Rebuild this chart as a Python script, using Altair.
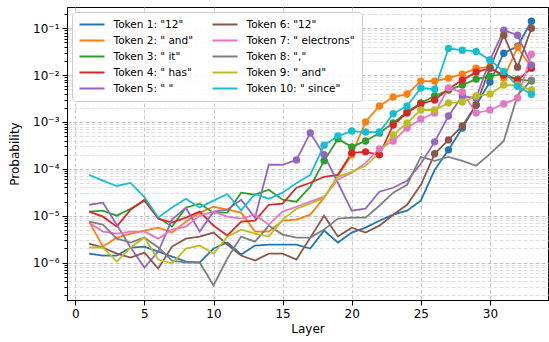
import altair as alt
import pandas as pd

layers = list(range(1, 34))

tokens = ['Token 1: "12"', 'Token 2: " and"', 'Token 3: " it"', 'Token 4: " has"',
          'Token 5: " "', 'Token 6: "12"', 'Token 7: " electrons"', 'Token 8: ","',
          'Token 9: " and"', 'Token 10: " since"']
colors = ["#1f77b4", "#ff7f0e", "#2ca02c", "#d62728", "#9467bd",
          "#8c564b", "#e377c2", "#7f7f7f", "#bcbd22", "#17becf"]

p_tok1 = [1.55e-6, 1.41e-6, 1.41e-6, 2.09e-6, 2.19e-6, 1.71e-6, 1.34e-6, 1.05e-6, 1.0e-6, 1.99e-6,
          2.67e-6, 1.48e-6, 2.30e-6, 2.42e-6, 2.42e-6, 2.42e-6, 1.99e-6, 4.8e-6, 2.67e-6, 4.35e-6,
          5.55e-6, 7.8e-6, 1.05e-5, 1.28e-5, 2.09e-5, 9.5e-5, 2.54e-4, 7.45e-4, 2.3e-3, 7.1e-3,
          2.94e-2, 4.14e-2, 0.141]
p_tok2 = [7.45e-6, 2.19e-6, 3.4e-6, 4.14e-6, 4.8e-6, 5.55e-6, 4.35e-6, 7.45e-6, 1.16e-5, 1.55e-5,
          1.34e-5, 1.16e-5, 4.57e-6, 4.57e-6, 7.83e-6, 8.22e-6, 1.05e-5, 2.42e-5, 7.1e-5, 1.99e-4,
          1.0e-3, 2.19e-3, 3.4e-3, 3.94e-3, 7.45e-3, 7.45e-3, 8.63e-3, 1.05e-2, 1.41e-2, 1.48e-2,
          8.63e-3, 3.94e-2, 1.48e-2]
p_tok3 = [1.22e-5, 1.28e-5, 1.0e-5, 1.41e-5, 2.09e-5, 9.07e-6, 5.83e-6, 1.48e-5, 1.80e-5, 1.16e-5,
          1.16e-5, 3.09e-5, 2.80e-5, 3.57e-5, 2.19e-5, 1.99e-5, 4.14e-5, 1.48e-4, 4.35e-4, 2.94e-4,
          3.94e-4, 5.83e-4, 9.52e-4, 1.63e-3, 2.54e-3, 3.57e-3, 4.8e-3, 6.13e-3, 8.22e-3, 9.52e-3,
          1.05e-2, 8.22e-3, 7.45e-3]
p_tok4 = [1.22e-5, 9.52e-6, 5.83e-6, 1.34e-5, 2.19e-5, 8.63e-6, 7.1e-6, 9.07e-6, 1.22e-5, 6.13e-6,
          3.76e-6, 7.45e-6, 7.83e-6, 1.71e-5, 1.80e-5, 3.94e-5, 5.04e-5, 6.76e-5, 7.45e-5, 2.19e-4,
          2.30e-4, 1.99e-4, 8.63e-4, 1.55e-3, 2.42e-3, 2.94e-3, 5.04e-3, 7.83e-3, 1.16e-2, 1.41e-2,
          1.0e-2, 7.83e-3, 1.41e-2]
p_tok5 = [1.71e-5, 1.89e-5, 6.43e-6, 2.09e-6, 7.83e-7, 1.71e-6, 8.22e-6, 1.48e-5, 4.57e-6, 1.22e-5,
          1.34e-5, 2.19e-5, 9.07e-6, 1.22e-4, 1.22e-4, 1.55e-4, 5.83e-4, 1.99e-4, 5.04e-5, 1.28e-5,
          1.41e-5, 3.24e-5, 3.94e-5, 5.55e-5, 1.28e-4, 3.76e-4, 1.34e-3, 3.57e-3, 3.24e-3, 2.09e-2,
          9.07e-2, 7.1e-2, 1.63e-2]
p_tok6 = [2.54e-6, 2.09e-6, 1.55e-6, 1.28e-6, 1.63e-6, 7.45e-7, 2.19e-6, 3.24e-6, 3.57e-6, 4.35e-6,
          2.42e-6, 1.41e-6, 1.10e-6, 1.55e-6, 1.55e-6, 1.16e-6, 3.4e-6, 1.0e-5, 3.57e-6, 5.55e-6,
          4.35e-6, 6.13e-6, 1.05e-5, 1.71e-5, 4.57e-5, 2.09e-4, 4.14e-4, 8.22e-4, 2.30e-3, 1.41e-2,
          7.1e-2, 1.48e-2, 0.1]
p_tok7 = [7.1e-6, 4.57e-6, 4.14e-6, 4.57e-6, 4.57e-6, 3.24e-6, 5.04e-6, 5.83e-6, 1.0e-5, 1.22e-5,
          9.52e-6, 8.63e-6, 1.05e-5, 6.43e-6, 1.22e-5, 1.55e-5, 1.99e-5, 2.54e-5, 5.83e-5, 8.22e-5,
          1.34e-4, 2.67e-4, 3.94e-4, 7.45e-4, 1.16e-3, 1.55e-3, 5.29e-3, 4.35e-3, 1.55e-3, 1.80e-3,
          2.42e-3, 3.24e-3, 2.80e-2]
p_tok8 = [7.45e-6, 6.43e-6, 3.24e-6, 2.67e-6, 3.4e-6, 2.09e-6, 1.10e-6, 1.0e-6, 1.0e-6, 3.24e-7,
          1.22e-6, 3.57e-6, 2.80e-6, 6.13e-6, 3.94e-6, 3.4e-6, 3.4e-6, 5.04e-6, 8.63e-6, 9.07e-6,
          9.07e-6, 1.63e-5, 3.09e-5, 4.57e-5, 1.80e-4, 1.48e-4, 1.80e-4, 1.48e-4, 1.16e-4, 2.09e-4,
          3.94e-4, 3.76e-3, 7.83e-3]
p_tok9 = [2.09e-6, 2.09e-6, 1.05e-6, 2.09e-6, 3.4e-6, 1.16e-6, 9.52e-7, 1.99e-6, 2.30e-6, 1.55e-6,
          3.57e-6, 5.04e-6, 4.14e-6, 3.57e-6, 8.22e-6, 1.41e-5, 1.80e-5, 2.42e-5, 6.76e-5, 8.63e-5,
          1.16e-4, 2.19e-4, 5.29e-4, 9.52e-4, 1.80e-3, 1.80e-3, 2.54e-3, 2.67e-3, 3.57e-3, 3.94e-3,
          6.13e-3, 6.13e-3, 4.8e-3]
p_tok10 = [7.4e-5, 5.6e-5, 4.3e-5, 5.0e-5, 2.5e-5, 9.1e-6, 1.5e-5, 2.3e-5, 1.5e-5, 2.1e-5,
           2.9e-5, 1.3e-5, 2.9e-5, 2.3e-5, 3.1e-5, 5.0e-5, 7.4e-5, 3.2e-4, 5.0e-4, 6.4e-4,
           6.1e-4, 6.1e-4, 1.5e-3, 2.2e-3, 5.3e-3, 5.0e-3, 3.7e-2, 3.4e-2, 3.2e-2, 2.1e-2,
           1.2e-2, 5.8e-3, 3.9e-3]

# layers at which each token is marked with a dot
marked_tok1 = list(range(27, 34))
marked_tok2 = list(range(20, 34))
marked_tok3 = list(range(18, 34))
marked_tok4 = list(range(20, 34))
marked_tok5 = [16, 17, 18] + list(range(26, 34))
marked_tok6 = list(range(26, 34))
marked_tok7 = list(range(22, 34))
marked_tok8 = [33]
marked_tok9 = list(range(23, 34))
marked_tok10 = list(range(18, 34))

series = [p_tok1, p_tok2, p_tok3, p_tok4, p_tok5, p_tok6, p_tok7, p_tok8, p_tok9, p_tok10]
marks = [marked_tok1, marked_tok2, marked_tok3, marked_tok4, marked_tok5,
         marked_tok6, marked_tok7, marked_tok8, marked_tok9, marked_tok10]

rows = []
for i, (tok, vals, mk) in enumerate(zip(tokens, series, marks)):
    assert len(vals) == len(layers), tok
    for layer, v in zip(layers, vals):
        rows.append({"token": tok, "idx": i, "layer": layer, "prob": v, "marked": layer in mk})
df = pd.DataFrame(rows)

ymin, ymax = 10 ** -6.8, 10 ** -0.546
yticks = sorted(m * 10.0 ** k for k in range(-7, 0) for m in range(1, 10)
                if ymin <= m * 10.0 ** k <= ymax)

is_major = "abs(log(datum.value)/LN10 - round(log(datum.value)/LN10)) < 0.001"
sup = "['⁰','¹','²','³','⁴','⁵','⁶','⁷']"
ylabel = f"{is_major} ? '10⁻' + {sup}[-round(log(datum.value)/LN10)] : ''"

x_enc = alt.X("layer:Q",
              scale=alt.Scale(domain=[-0.6, 34.2], nice=False, zero=False),
              axis=alt.Axis(values=[0, 5, 10, 15, 20, 25, 30], title="Layer",
                            grid=True, gridDash=[4, 2], gridColor="#c8c8c8",
                            tickSize=5, labelPadding=3, titlePadding=4,
                            labelFontSize=12, titleFontSize=12))
y_enc = alt.Y("prob:Q",
              scale=alt.Scale(type="log", domain=[ymin, ymax], nice=False),
              axis=alt.Axis(values=yticks, title="Probability", labelExpr=ylabel,
                            labelOverlap=False, grid=True, gridDash=[4, 2],
                            gridColor={"condition": {"test": is_major, "value": "#c0c0c0"},
                                       "value": "#dedede"},
                            tickSize={"condition": {"test": is_major, "value": 5},
                                      "value": 3},
                            labelPadding=3, titlePadding=11,
                            labelFontSize=12, titleFontSize=12))

color_scale = alt.Scale(domain=tokens, range=colors)

lines = alt.Chart(df).mark_line(strokeWidth=1.8, clip=True).encode(
    x=x_enc, y=y_enc,
    color=alt.Color("token:N", scale=color_scale,
                    legend=alt.Legend(title=None, orient="top-left", offset=5,
                                      columns=2, symbolType="stroke", symbolSize=625,
                                      symbolStrokeWidth=2, labelFontSize=10.5,
                                      labelOffset=8, clipHeight=12, rowPadding=4.0,
                                      columnPadding=18, padding=6.5,
                                      fillColor="rgba(255,255,255,0.85)",
                                      strokeColor="#cccccc", cornerRadius=3)),
    detail="idx:O",
    order="layer:Q",
)

dots = alt.Chart(df).transform_filter("datum.marked").mark_circle(
    size=55, opacity=1, clip=True).encode(
    x=x_enc, y=y_enc,
    color=alt.Color("token:N", scale=color_scale, legend=None),
)

chart = alt.layer(lines, dots).properties(
    width=481, height=293,
    autosize=alt.AutoSizeParams(type="none"),
    padding={"left": 67, "top": 7, "right": 1, "bottom": 42},
).configure_view(stroke="black", strokeWidth=1).configure_axis(
    labelFont="DejaVu Sans", titleFont="DejaVu Sans", labelColor="black",
    titleColor="black", domainColor="black", tickColor="black",
    titleFontWeight="normal", domainWidth=1,
).configure_legend(labelFont="DejaVu Sans", labelColor="black")

chart.save("out.html", embed_options={"renderer": "svg", "actions": False})
